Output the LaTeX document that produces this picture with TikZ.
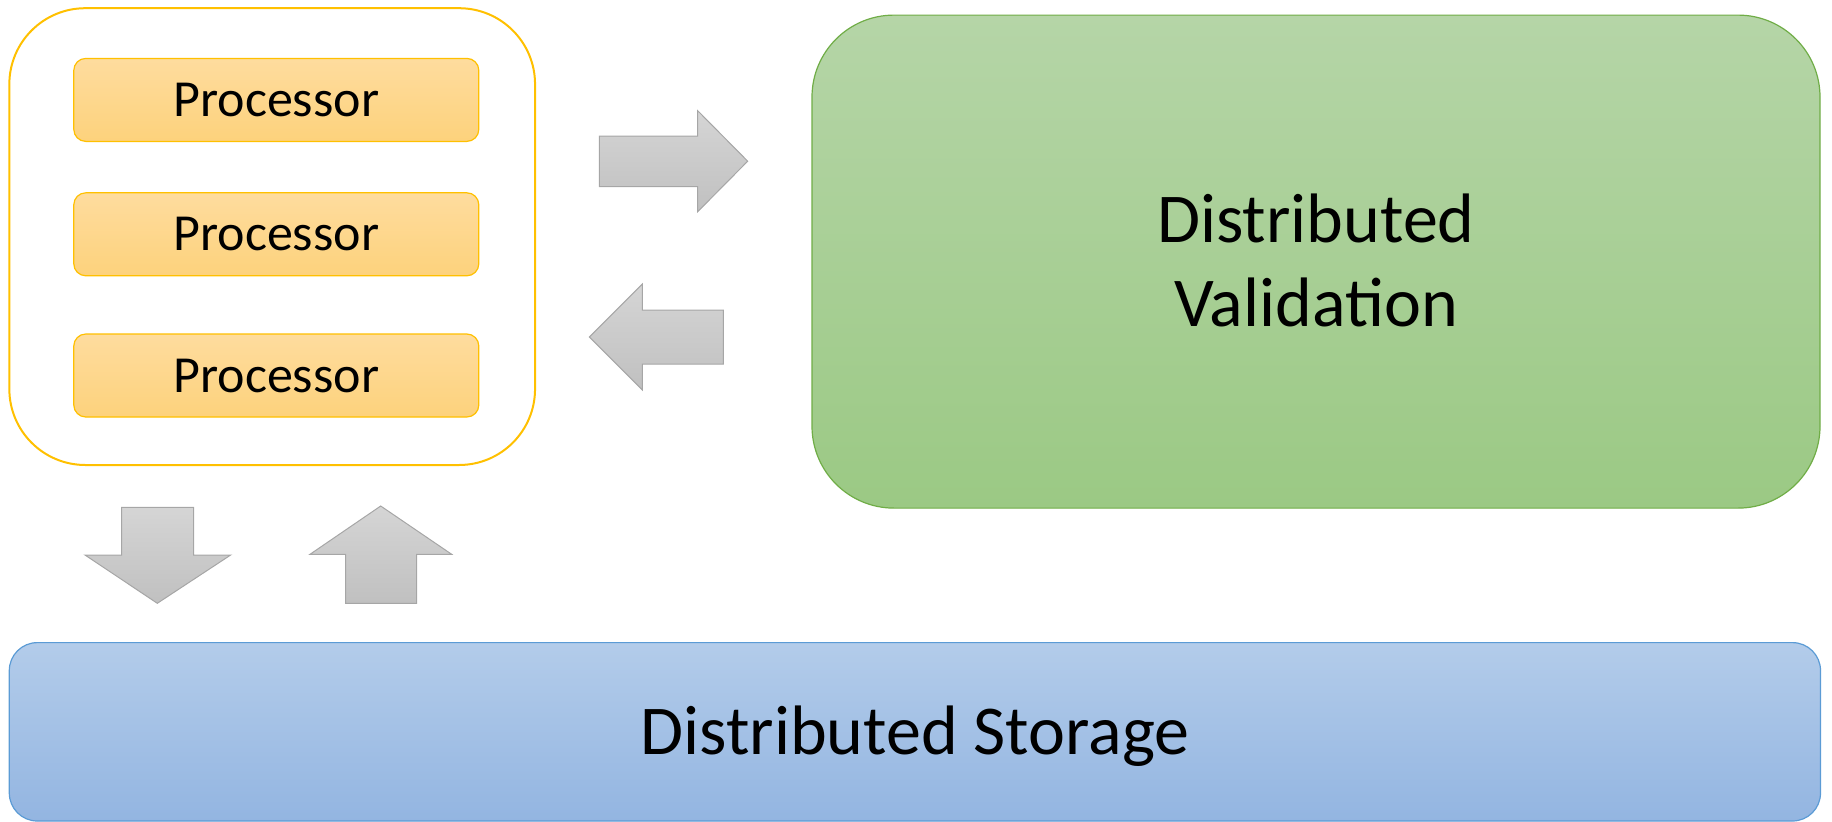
\documentclass[tikz,border=0pt]{standalone}
\usepackage{fontspec}
\setmainfont{Carlito}
\definecolor{goldline}{HTML}{FFC000}
\definecolor{procTop}{HTML}{FEDC9E}
\definecolor{procBot}{HTML}{FDD27C}
\definecolor{greenline}{HTML}{70AD47}
\definecolor{greenTop}{HTML}{B5D5A7}
\definecolor{greenBot}{HTML}{9BC984}
\definecolor{blueline}{HTML}{5B9BD5}
\definecolor{blueTop}{HTML}{B3CCEA}
\definecolor{blueBot}{HTML}{93B5E1}
\definecolor{arrowline}{HTML}{A6A6A6}
\definecolor{arrowTop}{HTML}{D5D5D5}
\definecolor{arrowBot}{HTML}{C0C0C0}
\begin{document}
\begin{tikzpicture}[x=1pt,y=-1pt,
  procbox/.style={draw=goldline, line width=1.2pt, top color=procTop, bottom color=procBot,
    rounded corners=12pt, minimum width=405pt, minimum height=83pt, inner sep=0pt,
    font=\fontsize{52}{62}\selectfont, text height=33pt, text depth=0pt},
  blockarrow/.style={draw=arrowline, line width=1pt, top color=arrowTop, bottom color=arrowBot, line join=miter}
]
\useasboundingbox (0,0) rectangle (1832,822);

% processor cluster
\node[draw=goldline, line width=2pt, fill=white, rounded corners=76pt,
      minimum width=525.7pt, minimum height=456.8pt, inner sep=0pt] (cluster) at (272.2,236.6) {};
\node[procbox] (p1) at (276.3,99.9) {Processor};
\node[procbox] (p2) at (276.3,234.3) {Processor};
\node[procbox] (p3) at (276.3,375.5) {Processor};

% validation block (two lines: cap height plus one baseline skip above the last baseline)
\node[draw=greenline, line width=1.2pt, top color=greenTop, bottom color=greenBot, rounded corners=82pt,
      minimum width=1008pt, minimum height=493pt, inner sep=0pt, align=center,
      font=\fontsize{70}{84}\selectfont, text height=129pt, text depth=0pt] (valid) at (1316,261.6)
      {Distributed\\Validation};

% storage block
\node[draw=blueline, line width=1.2pt, top color=blueTop, bottom color=blueBot, rounded corners=28pt,
      minimum width=1811.2pt, minimum height=178.4pt, inner sep=0pt,
      font=\fontsize{70}{84}\selectfont, text height=45pt, text depth=0pt] (storage) at (914.9,731.8)
      {Distributed Storage};

% block arrows between the cluster and the validation block
\path[blockarrow] (599.3,136) -- (697.7,136) -- (697.7,110.7) -- (747.7,161.2)
  -- (697.7,211.7) -- (697.7,186.7) -- (599.3,186.7) -- cycle;
\path[blockarrow] (589.3,337) -- (642.3,284) -- (642.3,310) -- (723.3,310)
  -- (723.3,364) -- (642.3,364) -- (642.3,390) -- cycle;

% block arrows between the cluster and the storage block
\path[blockarrow] (121.7,507.3) -- (193.7,507.3) -- (193.7,555) -- (230.7,555)
  -- (157.3,603.3) -- (85,555) -- (121.7,555) -- cycle;
\path[blockarrow] (380.7,506) -- (451.7,554.3) -- (416.7,554.3) -- (416.7,603.3)
  -- (345.7,603.3) -- (345.7,554.3) -- (310,554.3) -- cycle;
\end{tikzpicture}
\end{document}
